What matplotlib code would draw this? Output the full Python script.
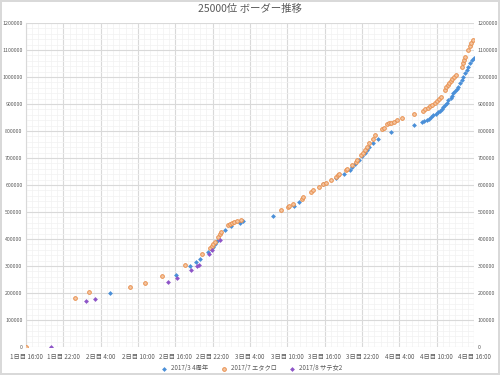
import numpy as np
import matplotlib.pyplot as plt
from matplotlib.ticker import MultipleLocator, FuncFormatter

plt.rcParams['font.family'] = ['Noto Sans CJK JP', 'DejaVu Sans']

# hours elapsed since 1日目 16:00, border values
blue_h = [13.5, 24.1, 26.4, 27.3, 28.0, 29.3, 29.7, 30.1, 30.4, 30.7, 32.0, 33.0,
          34.4, 34.9, 39.7, 43.0, 43.9, 47.7, 49.8, 51.1, 52.1, 52.4, 52.9, 53.5,
          54.0, 54.5, 54.8, 55.1, 55.8, 56.6, 58.7, 62.4, 63.6, 64.0, 64.4, 64.8,
          65.1, 65.4, 65.9, 66.2, 66.5, 66.9, 67.0, 67.3, 67.7, 67.9, 68.3, 68.5,
          68.7, 68.9, 69.3, 69.4, 69.8, 70.1, 70.2, 70.6, 70.9, 71.0, 71.4, 71.7,
          72.0]
blue_v = [200, 267, 300, 315, 326, 351, 362, 370, 381, 392, 433, 448,
          459, 467, 485, 522, 537, 604, 626, 641, 656, 667, 678, 693,
          707, 719, 730, 741, 756, 770, 796, 822, 833, 837, 841, 844,
          852, 859, 863, 870, 874, 881, 889, 896, 904, 915, 922, 930,
          941, 948, 956, 963, 978, 989, 1000, 1015, 1026, 1037, 1052, 1063,
          1070]

orange_h = [0.0, 7.9, 10.1, 16.7, 19.1, 21.9, 25.5, 28.3, 29.5, 29.9, 30.1, 30.4,
            30.9, 31.2, 31.4, 32.4, 32.8, 33.1, 33.4, 33.9, 34.6, 41.0, 42.1, 42.3,
            42.9, 44.4, 44.5, 45.8, 46.2, 47.1, 47.7, 48.2, 49.0, 49.8, 50.1, 50.3,
            51.4, 51.6, 52.4, 53.0, 53.2, 53.8, 54.2, 54.5, 54.8, 55.1, 55.8, 56.1,
            57.2, 57.5, 58.0, 58.3, 58.7, 59.1, 59.6, 60.4, 62.4, 63.8, 64.1, 64.6,
            64.9, 65.3, 65.7, 66.0, 66.4, 66.7, 67.3, 67.5, 67.8, 68.0, 68.3, 68.5,
            68.8, 69.1, 70.1, 70.2, 70.4, 70.6, 71.0, 71.3, 71.5, 71.8]
orange_v = [0, 181, 204, 222, 237, 263, 304, 344, 367, 374, 381, 389,
            407, 419, 426, 452, 456, 459, 463, 467, 470, 507, 519, 522,
            530, 548, 556, 574, 581, 593, 604, 607, 619, 630, 637, 641,
            656, 659, 674, 685, 693, 711, 719, 730, 741, 756, 770, 785,
            807, 811, 826, 830, 830, 833, 841, 848, 863, 874, 881, 885,
            893, 896, 904, 911, 919, 926, 952, 963, 970, 978, 985, 993,
            1000, 1007, 1037, 1052, 1063, 1074, 1100, 1115, 1126, 1137]

purple_h = [4.0, 9.6, 11.1, 22.8, 24.3, 26.5, 27.5, 27.8, 29.4, 29.9, 31.1]
purple_v = [0, 170, 178, 241, 256, 285, 300, 304, 344, 359, 396]

labels = ['2017/3 4周年', '2017/7 エタクロ', '2017/8 サテ女2']
xticklabels = ['1日目 16:00', '1日目 22:00', '2日目 4:00', '2日目 10:00', '2日目 16:00',
               '2日目 22:00', '3日目 4:00', '3日目 10:00', '3日目 16:00', '3日目 22:00',
               '4日目 4:00', '4日目 10:00', '4日目 16:00']

fig = plt.figure(figsize=(5, 3.75), dpi=100)
fig.patch.set_edgecolor('#d9d9d9')
fig.patch.set_linewidth(1.5)
ax = fig.add_axes([0.052, 0.0747, 0.896, 0.864])

ax.scatter(blue_h, np.array(blue_v) * 1000, s=6, marker='D', color='#4a8fd8',
           linewidths=0, label=labels[0], zorder=3)
ax.scatter(orange_h, np.array(orange_v) * 1000, s=7, marker='o', facecolor='#f5c7a4',
           edgecolor='#e8904e', linewidths=0.7, label=labels[1], zorder=3)
ax.scatter(purple_h, np.array(purple_v) * 1000, s=6, marker='D', color='#8e55c8',
           linewidths=0, label=labels[2], zorder=3)

ax.set_xlim(0, 72)
ax.set_ylim(0, 1200000)
ax.set_xticks(np.arange(0, 73, 6))
ax.set_xticklabels(xticklabels)
ax.xaxis.set_minor_locator(MultipleLocator(1))
ax.yaxis.set_major_locator(MultipleLocator(100000))
ax.yaxis.set_minor_locator(MultipleLocator(20000))
ax.yaxis.set_major_formatter(FuncFormatter(lambda v, p: '%d' % v))
ax.grid(True, which='major', color='#d9d9d9', linewidth=0.8)
ax.grid(True, which='minor', color='#f2f2f2', linewidth=0.5)
ax.set_axisbelow(True)
for sp in ax.spines.values():
    sp.set_visible(False)
ax.spines['left'].set_visible(True)
ax.spines['left'].set_color('#d9d9d9')
ax.tick_params(which='both', length=0, labelsize=4.5, labelcolor='#595959')
ax.tick_params(axis='x', pad=4)
ax.tick_params(axis='y', pad=2.5, labelsize=3.8)
ax.yaxis.set_ticks_position('both')
ax.tick_params(axis='y', labelright=True)

ax.set_title('25000位 ボーダー推移', fontsize=7.5, color='#595959', pad=8)
ax.legend(loc='upper center', bbox_to_anchor=(0.5, -0.04), ncol=3, frameon=False,
          fontsize=4.5, labelcolor='#595959', handletextpad=0.1, columnspacing=1.5,
          borderpad=0.2, markerscale=1.0)

fig.savefig('out.png', dpi=100)
